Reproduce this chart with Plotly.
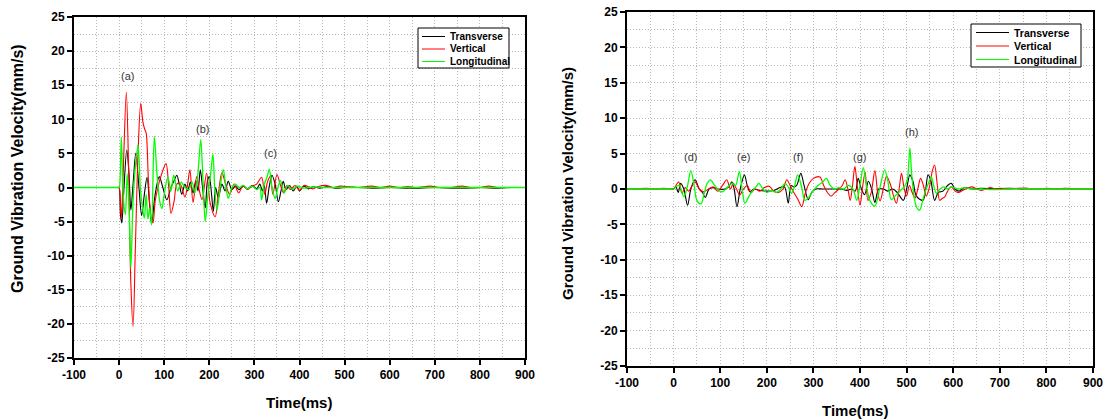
import plotly.graph_objects as go

FONT = "Liberation Sans, Arial, sans-serif"

SERIES = ["Transverse", "Vertical", "Longitudinal"]
COLORS = ["#000000", "#ff0000", "#00ff00"]
WIDTHS = [1.1, 1.1, 1.3]

X_TICKS = [-100, 0, 100, 200, 300, 400, 500, 600, 700, 800, 900]
X_TICK_TEXT = ["-100", "0", "100", "200", "300", "400", "500", "600", "700", "800", "900"]
Y_TICKS = [-25, -20, -15, -10, -5, 0, 5, 10, 15, 20, 25]
Y_TICK_TEXT = ["-25", "-20", "-15", "-10", "-5", "0", "5", "10", "15", "20", "25"]

# ---------------- left record (time ms, velocity mm/s) ----------------
LEFT_TRANSVERSE = [
    (-100, 0), (-60, 0), (-20, 0), (-5, 0), (-2, 0), (0, 0), (3, -4), (6, -5.2), (10, -1),
    (17, 5.5), (22, 2), (26, -3.3), (31, 0.5), (37, 5.0), (44, 0), (50, -4.1), (56, -1),
    (62, 1.5), (67, -2), (72, -5.3), (80, -1), (89, 1.6), (97, 0), (106, -1.8), (115, 0),
    (122, 1.0), (128, 1.8), (134, 0.3), (139, -1.0), (146, 0.5), (152, -0.5), (158, 0.8),
    (164, -0.8), (170, 1.0), (175, -0.5), (180, 2.6), (185, 0), (191, -3.0), (196, 1.0),
    (200, 1.6), (205, -1), (209, -3.5), (214, 0), (220, -1.5), (228, 0.5), (235, -0.5),
    (242, 0.9), (250, -0.3), (258, 0.2), (266, -0.3), (275, 0.2), (285, -0.2), (295, 0.3),
    (305, -0.2), (312, 0.5), (318, -0.5), (322, 0.3), (327, -2.3), (333, 0.2), (339, 1.8),
    (346, 0.5), (353, -2.1), (359, -0.5), (364, 0.9), (370, -0.3), (378, 0.3), (386, -0.5),
    (394, 0.2), (400, -0.5), (410, 0.2), (420, -0.2), (430, 0.1), (445, -0.1), (460, 0.1),
    (480, -0.1), (500, 0), (530, 0), (560, -0.1), (600, 0), (650, -0.1), (700, 0),
    (760, -0.1), (800, 0), (840, -0.1), (870, 0), (900, 0),
]
LEFT_VERTICAL = [
    (-100, 0), (-60, 0), (-20, 0), (-5, 0), (0, 0), (2, -1), (5, -4.5), (9, 2), (16, 14.0),
    (21, 3), (26, -14), (31, -20.4), (36, -9), (42, 5), (48, 12.3), (53, 9.5), (57, 8.5),
    (60, 8.0), (65, 1), (71, -4.5), (75, -5.2), (80, -2), (86, 0), (92, 1.5), (104, 3.5),
    (110, 0), (115, -3.8), (122, -2), (128, 0.5), (135, 0.6), (146, -1.4), (152, 0.5),
    (157, 2.6), (164, -2.2), (172, 1.6), (178, -0.5), (184, -1.8), (194, 2.1), (202, -2.3),
    (213, -4.3), (220, -1), (228, 2.2), (236, 0.5), (245, -1), (255, 0.5), (265, -0.8),
    (275, 0.3), (285, -0.3), (295, 0.2), (305, 0.5), (316, 1.5), (323, -1), (329, 0.8),
    (335, 1.6), (341, -1), (350, 1.9), (357, 0.5), (365, -0.8), (372, 0.3), (380, -0.3),
    (390, 0.3), (400, -0.4), (410, 0.3), (420, 0.1), (430, -0.2), (440, 0.1), (460, 0.3),
    (475, 0), (490, 0.2), (510, 0.1), (530, 0), (560, 0.2), (580, 0), (600, 0.2), (620, 0),
    (640, 0.15), (660, 0), (690, 0.2), (710, 0), (735, 0), (760, 0.2), (780, 0), (800, 0),
    (820, 0.2), (840, 0), (870, 0), (900, 0),
]
LEFT_LONGITUDINAL = [
    (-100, 0), (-60, 0), (-20, 0), (-5, 0), (0, 0), (2, 1), (5, 7.4), (9, -1), (14, -4),
    (18, 2), (22, -3), (26, -11.8), (31, -2), (36, 3), (42, 6.2), (47, 0), (52, -3),
    (56, -4.5), (60, -1), (64, -4.6), (68, -3), (72, -5.5), (78, 7.5), (84, 2), (90, -2),
    (95, -3.1), (100, -1), (108, 1.5), (115, -0.5), (121, 1.8), (130, -0.5), (138, 0.8),
    (146, 0), (155, -0.3), (162, 0.8), (168, -0.8), (174, 1.5), (181, 7.0), (186, 1),
    (191, -5.0), (197, -1), (203, 2), (208, 4.9), (212, 0), (217, -3.3), (224, 0),
    (231, 2.6), (237, 0), (242, -1.6), (250, 0), (258, 0.5), (266, 0), (275, 0.3),
    (285, -0.2), (295, 0.2), (305, -0.3), (312, 0), (316, -1.8), (322, 0.5), (328, 1.5),
    (333, 2.7), (339, 0), (346, -1.6), (352, 0), (358, 1.0), (366, -0.8), (374, 0.3),
    (384, -0.3), (395, 0.2), (410, -0.1), (430, 0.1), (450, 0), (480, 0), (520, 0),
    (600, 0), (700, 0), (800, 0), (860, 0), (900, 0),
]

# ---------------- right record (time ms, velocity mm/s) ----------------
RIGHT_TRANSVERSE = [
    (-100, 0), (-60, 0), (-20, 0), (-5, 0), (0, 0), (5, 0.3), (10, -0.5), (15, 0.8), (22, 0),
    (30, -2.3), (37, 0), (46, 1.3), (55, 0), (62, -0.5), (68, -1.2), (76, 0), (85, 0.2),
    (95, 0), (110, 0), (118, 0.3), (125, 1.0), (130, 0), (136, -2.5), (143, 0), (152, 2.0),
    (158, 0.5), (164, -0.4), (172, 0), (185, -0.2), (200, -0.3), (215, -0.2), (228, 0.2),
    (238, 0.3), (246, -2.0), (252, 0.5), (258, 0.3), (264, 0.5), (273, 2.2), (280, 0.5),
    (289, -1.5), (296, -0.5), (305, 0), (320, 0), (340, 0), (360, 0), (372, -0.2), (382, 0),
    (390, -0.3), (396, 1.5), (403, 0), (410, -0.8), (418, 1.1), (425, 0), (432, -1.9),
    (440, 0), (450, 0), (460, -0.3), (470, 0), (480, -0.5), (493, -1.6), (500, 0),
    (507, 2.0), (514, 1.0), (521, -1.0), (535, -1.6), (541, 0), (546, 2.0), (552, 1.2),
    (560, -1.6), (568, -0.5), (578, -0.3), (588, 0.5), (596, 0.8), (604, 0), (612, -0.3),
    (625, 0.2), (640, 0), (660, 0.1), (690, 0), (720, 0.1), (750, 0), (780, 0), (800, 0),
    (840, 0), (870, 0), (900, 0),
]
RIGHT_VERTICAL = [
    (-100, 0), (-80, 0), (-60, 0.1), (-40, 0), (-20, 0.1), (-5, 0), (0, 0), (5, 0.5),
    (11, 1.0), (18, -0.6), (25, 0.2), (32, -0.3), (40, 0.5), (46, 1.0), (55, 0), (65, -0.4),
    (75, 0), (85, 0.3), (95, -0.3), (105, 0.5), (114, 1.3), (122, 0), (128, 0.8), (135, 0),
    (142, -0.85), (150, 0), (158, 0.5), (166, -0.5), (175, 0), (185, -0.3), (195, 0.2),
    (205, 0.4), (215, -0.3), (225, -0.5), (235, 0), (243, 1.3), (250, 0.5), (258, -0.5),
    (267, -1.5), (275, -2.5), (283, -0.5), (291, 0.8), (300, 1.5), (314, 1.7), (322, 0.5),
    (330, -0.5), (338, -1.0), (346, -0.5), (355, 0), (362, 0.5), (368, 1.3), (374, 0),
    (379, -1.6), (384, 0.5), (389, 3.2), (394, 0.5), (400, -2.3), (405, 0), (411, 2.4),
    (417, -1.6), (424, -0.5), (432, 2.6), (438, -0.5), (443, -1.7), (450, 0), (457, 1.8),
    (466, 0.5), (472, -1.0), (478, -2.0), (484, 0), (489, 2.2), (495, 0), (500, -1.0),
    (506, 0.5), (512, -0.5), (518, -1.3), (524, 0), (530, 1.5), (536, 0.5), (542, -1.0),
    (548, 0), (555, 2.5), (560, 3.4), (566, 0.5), (571, -1.6), (577, -1.3), (582, -1.1),
    (588, -0.3), (596, 0.3), (604, -0.3), (612, -0.5), (620, -0.2), (630, 0.1), (640, 0.3),
    (650, 0), (660, -0.2), (670, 0), (680, 0.2), (690, 0), (700, 0.1), (720, 0), (740, 0.1),
    (760, 0.1), (765, 0), (780, 0), (800, 0.1), (820, 0), (840, 0.1), (870, 0), (900, 0),
]
RIGHT_LONGITUDINAL = [
    (-100, 0), (-60, 0), (-20, 0), (-5, 0), (0, 0), (5, 0.3), (12, 0.5), (22, -1.1), (30, 0.5),
    (37, 2.6), (44, 0.5), (50, -1.6), (59, -2.1), (66, -0.5), (72, 0.8), (79, 1.3), (88, 0.5),
    (97, -0.2), (105, -0.4), (115, 0.2), (125, 0.8), (133, 0.5), (141, 2.45), (147, 0),
    (153, -2.0), (162, -1.0), (170, -0.2), (177, 0.3), (183, 0.8), (192, 0), (200, -0.5),
    (210, -0.2), (220, -0.5), (230, 0), (239, 0.8), (246, 0.3), (253, -0.6), (260, 0.5),
    (266, 2.0), (274, 0.5), (282, -1.6), (290, -1.2), (300, -0.2), (310, 0.5), (320, 1.0),
    (328, 1.5), (336, 0.5), (345, 0), (355, 0.2), (365, 0), (375, 0.5), (385, 0.0),
    (393, -1.6), (400, 0.5), (407, 3.0), (414, 0.5), (421, -1.6), (432, -2.4), (442, 0),
    (453, 2.7), (460, 1.0), (467, -1.5), (475, -1.0), (483, -0.5), (490, 0), (497, 0.5),
    (502, 1.5), (507, 5.8), (511, 2.0), (516, -1.0), (521, -2.5), (528, -3.0), (535, -1.5),
    (542, 0), (548, 1.0), (553, 1.7), (558, 0.5), (564, -0.6), (572, 0), (580, 0.3),
    (588, 0), (596, 0.3), (610, 0), (625, 0.2), (640, 0), (660, 0), (690, -0.1), (720, 0),
    (760, 0), (800, 0), (860, 0), (900, 0),
]

# event labels: (text, time, velocity)
LEFT_LABELS = [("(a)", 18, 16.3), ("(b)", 184, 8.6), ("(c)", 335, 5.1)]
RIGHT_LABELS = [("(d)", 36, 4.5), ("(e)", 149, 4.5), ("(f)", 268, 4.5),
                ("(g)", 399, 4.5), ("(h)", 511, 8.0)]

X_RANGE = [-100, 900]
Y_RANGE = [-25, 25]

W, H = 1110, 419

fig = go.Figure()

for data_set, xa, ya in [
    ([LEFT_TRANSVERSE, LEFT_VERTICAL, LEFT_LONGITUDINAL], "x", "y"),
    ([RIGHT_TRANSVERSE, RIGHT_VERTICAL, RIGHT_LONGITUDINAL], "x2", "y2"),
]:
    for name, color, lw, data in zip(SERIES, COLORS, WIDTHS, data_set):
        t, v = zip(*data)
        fig.add_trace(go.Scatter(
            x=list(t), y=list(v), mode="lines", name=name, showlegend=False,
            line=dict(color=color, width=lw, shape="spline", smoothing=0.9),
            xaxis=xa, yaxis=ya, hoverinfo="skip",
        ))

grid = "#b8b8b8"


def axis(rng, tickvals, ticktext, minor_dtick, domain, anchor):
    return dict(
        range=rng, tickmode="array", tickvals=tickvals, ticktext=ticktext,
        domain=domain, anchor=anchor,
        showline=True, linecolor="black", linewidth=2, mirror=True,
        ticks="outside", ticklen=5, tickwidth=1.5, tickcolor="black",
        showgrid=True, gridcolor=grid, griddash="1px,2px", gridwidth=1,
        minor=dict(tick0=rng[0], dtick=minor_dtick, showgrid=True, gridcolor=grid,
                   griddash="1px,2px", gridwidth=1, ticks=""),
        zeroline=False, automargin=False,
        tickfont=dict(family=FONT, size=12, color="black", weight="bold"),
    )


fig.update_layout(
    width=W, height=H, margin=dict(l=0, r=0, t=0, b=0),
    paper_bgcolor="white", plot_bgcolor="white", showlegend=False,
    xaxis=axis(X_RANGE, X_TICKS, X_TICK_TEXT, 50, [74 / W, 525 / W], "y"),
    yaxis=axis(Y_RANGE, Y_TICKS, Y_TICK_TEXT, 2.5, [1 - 358 / H, 1 - 17 / H], "x"),
    xaxis2=axis(X_RANGE, X_TICKS, X_TICK_TEXT, 50, [627 / W, 1093 / W], "y2"),
    yaxis2=axis(Y_RANGE, Y_TICKS, Y_TICK_TEXT, 2.5, [1 - 366 / H, 1 - 12 / H], "x2"),
)

ann = []
for txt, t, v in LEFT_LABELS:
    ann.append(dict(text=txt, x=t, y=v, xref="x", yref="y", showarrow=False,
                    font=dict(family=FONT, size=11, color="#333")))
for txt, t, v in RIGHT_LABELS:
    ann.append(dict(text=txt, x=t, y=v, xref="x2", yref="y2", showarrow=False,
                    font=dict(family=FONT, size=11, color="#333")))

ann += [
    dict(text="Ground Vibration Velocity(mm/s)", x=17 / W, y=1 - 169 / H, xref="paper",
         yref="paper", textangle=-90, showarrow=False, xanchor="center", yanchor="middle",
         font=dict(family=FONT, size=16, color="black", weight="bold")),
    dict(text="Ground Vibration Velocity(mm/s)", x=567 / W, y=1 - 184 / H, xref="paper",
         yref="paper", textangle=-90, showarrow=False, xanchor="center", yanchor="middle",
         font=dict(family=FONT, size=15, color="black", weight="bold")),
    dict(text="Time(ms)", x=299 / W, y=1 - 402 / H, xref="paper", yref="paper",
         showarrow=False, xanchor="center", yanchor="middle",
         font=dict(family=FONT, size=15, color="black", weight="bold")),
    dict(text="Time(ms)", x=855 / W, y=1 - 410 / H, xref="paper", yref="paper",
         showarrow=False, xanchor="center", yanchor="middle",
         font=dict(family=FONT, size=15, color="black", weight="bold")),
]

# legend boxes (pixel geometry of each box, then per-row sample line and label)
shapes = []
LEGENDS = [
    # box x0, x1, y0, y1, line x0, line x1, text x, first row y, row step, font size
    (418, 509, 28, 68, 422, 445, 448, 36.5, 12.5, 10),
    (971, 1081, 24, 67, 976, 1009, 1012, 32.5, 13.5, 10.5),
]
for bx0, bx1, by0, by1, lx0, lx1, tx, ry, rs, fs in LEGENDS:
    shapes.append(dict(type="rect", xref="paper", yref="paper",
                       x0=bx0 / W, x1=bx1 / W, y0=1 - by1 / H, y1=1 - by0 / H,
                       line=dict(color="black", width=1), fillcolor="white", layer="above"))
    for i, (name, color) in enumerate(zip(SERIES, COLORS)):
        yy = ry + i * rs
        shapes.append(dict(type="line", xref="paper", yref="paper",
                           x0=lx0 / W, x1=lx1 / W, y0=1 - yy / H, y1=1 - yy / H,
                           line=dict(color=color, width=1), layer="above"))
        ann.append(dict(text=name, x=tx / W, y=1 - yy / H, xref="paper", yref="paper",
                        showarrow=False, xanchor="left", yanchor="middle",
                        font=dict(family=FONT, size=fs, color="black", weight="bold")))

fig.update_layout(annotations=ann, shapes=shapes)

fig.write_html("out.html")
